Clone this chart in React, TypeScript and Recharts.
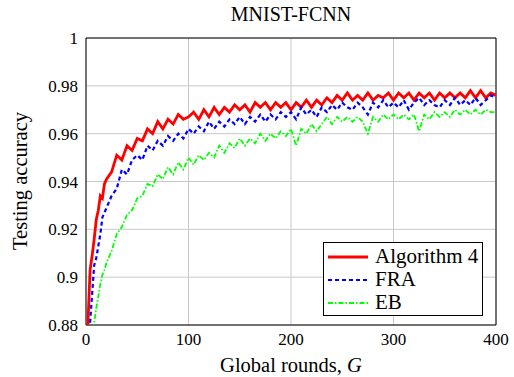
import React from "react";
import {
  LineChart,
  Line,
  XAxis,
  YAxis,
  CartesianGrid,
  ReferenceArea,
  Legend,
} from "recharts";

// global rounds G (denser at the start where the curves climb fast)
const rounds = [
  0, 2, 4, 6, 8, 10, 12, 14, 16, 18, 20, 25, 30, 35, 40, 45, 50, 55, 60, 65, 70,
  75, 80, 85, 90, 95, 100, 105, 110, 115, 120, 125, 130, 135, 140, 145, 150, 155,
  160, 165, 170, 175, 180, 185, 190, 195, 200, 205, 210, 215, 220, 225, 230, 235,
  240, 245, 250, 255, 260, 265, 270, 275, 280, 285, 290, 295, 300, 305, 310, 315,
  320, 325, 330, 335, 340, 345, 350, 355, 360, 365, 370, 375, 380, 385, 390, 395,
  400,
];

const algorithm4 = [
  0.85, 0.882, 0.903, 0.909, 0.916, 0.924, 0.928, 0.934, 0.933, 0.939, 0.941,
  0.944, 0.951, 0.949, 0.955, 0.953, 0.958, 0.957, 0.962, 0.96, 0.965, 0.962,
  0.966, 0.964, 0.968, 0.966, 0.967, 0.969, 0.966, 0.97, 0.967, 0.971, 0.968,
  0.971, 0.969, 0.972, 0.97, 0.972, 0.969, 0.973, 0.971, 0.973, 0.97, 0.973,
  0.971, 0.973, 0.97, 0.973, 0.971, 0.974, 0.971, 0.974, 0.972, 0.975, 0.973,
  0.976, 0.974, 0.977, 0.974, 0.976, 0.974, 0.977, 0.974, 0.976, 0.975, 0.977,
  0.974, 0.977, 0.975, 0.977, 0.974, 0.977, 0.975, 0.977, 0.974, 0.977, 0.975,
  0.977, 0.975, 0.977, 0.975, 0.978, 0.975, 0.978, 0.975, 0.977, 0.976,
];

const fra = [
  0.84, 0.86, 0.881, 0.893, 0.905, 0.908, 0.913, 0.918, 0.925, 0.927, 0.929,
  0.934, 0.937, 0.945, 0.943, 0.949, 0.951, 0.949, 0.955, 0.953, 0.957, 0.955,
  0.959, 0.957, 0.96, 0.958, 0.962, 0.96, 0.963, 0.961, 0.965, 0.962, 0.965,
  0.963, 0.966, 0.964, 0.967, 0.964, 0.967, 0.965, 0.968, 0.965, 0.968, 0.966,
  0.969, 0.967, 0.969, 0.966, 0.971, 0.968, 0.97, 0.967, 0.971, 0.969, 0.972,
  0.97, 0.973, 0.971, 0.97, 0.973, 0.971, 0.968, 0.973, 0.971, 0.974, 0.971,
  0.973, 0.971, 0.974, 0.97, 0.973, 0.975, 0.972, 0.974, 0.972, 0.971, 0.974,
  0.972, 0.975, 0.972, 0.974, 0.972, 0.975, 0.972, 0.974, 0.976, 0.975,
];

const eb = [
  0.83, 0.85, 0.865, 0.875, 0.881, 0.887, 0.892, 0.897, 0.901, 0.903, 0.906,
  0.911, 0.918, 0.921, 0.926, 0.928, 0.933, 0.934, 0.939, 0.938, 0.943, 0.941,
  0.946, 0.943, 0.948, 0.945, 0.95, 0.947, 0.951, 0.949, 0.952, 0.95, 0.955,
  0.952, 0.956, 0.954, 0.958, 0.955, 0.958, 0.956, 0.96, 0.957, 0.96, 0.958,
  0.961, 0.959, 0.962, 0.955, 0.962, 0.96, 0.964, 0.961, 0.964, 0.967, 0.964,
  0.967, 0.965, 0.967, 0.965, 0.967, 0.965, 0.96, 0.967, 0.965, 0.968, 0.966,
  0.968, 0.966, 0.968, 0.966, 0.968, 0.961, 0.968, 0.966, 0.969, 0.967, 0.969,
  0.967, 0.97, 0.968, 0.97, 0.968, 0.97, 0.968, 0.97, 0.969, 0.969,
];

const xTicks = [0, 100, 200, 300, 400];
const yTicks = [0.88, 0.9, 0.92, 0.94, 0.96, 0.98, 1];

const seriesInfo = [
  { key: "alg4", name: "Algorithm 4", color: "#ff0000", width: 2.8, dash: undefined },
  { key: "fra", name: "FRA", color: "#0000ff", width: 2.2, dash: "4 3" },
  { key: "eb", name: "EB", color: "#00ff00", width: 1.8, dash: "5 2 1.5 2" },
];

const data = rounds.map((g, i) => ({
  g,
  alg4: algorithm4[i],
  fra: fra[i],
  eb: eb[i],
}));

const FONT = "Liberation Serif, DejaVu Serif, serif";

function LegendBox() {
  return (
    <div
      style={{
        width: 160,
        height: 74,
        border: "1px solid #000",
        background: "#fff",
        boxSizing: "border-box",
        paddingTop: 2,
        fontFamily: FONT,
        fontSize: 21,
        color: "#000",
      }}
    >
      {seriesInfo.map((s) => (
        <div key={s.key} style={{ display: "flex", alignItems: "center", height: 23 }}>
          <svg width={48} height={10} style={{ marginLeft: 3 }}>
            <line
              x1={1}
              y1={5}
              x2={41}
              y2={5}
              stroke={s.color}
              strokeWidth={s.width}
              strokeDasharray={s.dash}
            />
          </svg>
          <span style={{ lineHeight: "23px" }}>{s.name}</span>
        </div>
      ))}
    </div>
  );
}

export default function App() {
  return (
    <div style={{ position: "absolute", left: 0, top: 0 }}>
      <LineChart
        width={514}
        height={377}
        data={data}
        margin={{ top: 38, right: 18, left: 0, bottom: 0 }}
      >
        <CartesianGrid stroke="#c8c8c8" strokeWidth={1} />
        <XAxis
          dataKey="g"
          type="number"
          domain={[0, 400]}
          ticks={xTicks}
          allowDataOverflow
          height={52}
          axisLine={false}
          tickLine={false}
          tickSize={0}
          tickMargin={8}
          tick={{ fill: "#000", fontFamily: FONT, fontSize: 17 }}
        />
        <YAxis
          type="number"
          domain={[0.88, 1]}
          ticks={yTicks}
          allowDataOverflow
          width={86}
          axisLine={false}
          tickLine={false}
          tickSize={0}
          tickMargin={8}
          tick={{ fill: "#000", fontFamily: FONT, fontSize: 17 }}
        />
        {seriesInfo.map((s) => (
          <Line
            key={s.key}
            dataKey={s.key}
            name={s.name}
            type="linear"
            stroke={s.color}
            strokeWidth={s.width}
            strokeDasharray={s.dash}
            dot={false}
            isAnimationActive={false}
          />
        ))}
        <ReferenceArea
          x1={0}
          x2={400}
          y1={0.88}
          y2={1}
          fill="none"
          fillOpacity={0}
          stroke="#000"
          strokeWidth={1}
          strokeOpacity={1}
        />
        <Legend
          layout="vertical"
          align="center"
          verticalAlign="middle"
          wrapperStyle={{ left: 323, top: 242, width: 160 }}
          content={() => <LegendBox />}
        />
        <text x={291} y={20.5} textAnchor="middle" fontFamily={FONT} fontSize={20} fill="#000">
          MNIST-FCNN
        </text>
        <text x={291} y={371.5} textAnchor="middle" fontFamily={FONT} fontSize={20.5} fill="#000">
          Global rounds, <tspan fontStyle="italic">G</tspan>
        </text>
        <text
          x={27}
          y={181}
          textAnchor="middle"
          transform="rotate(-90 27 181)"
          fontFamily={FONT}
          fontSize={20.5}
          fill="#000"
        >
          Testing accuracy
        </text>
      </LineChart>
    </div>
  );
}
